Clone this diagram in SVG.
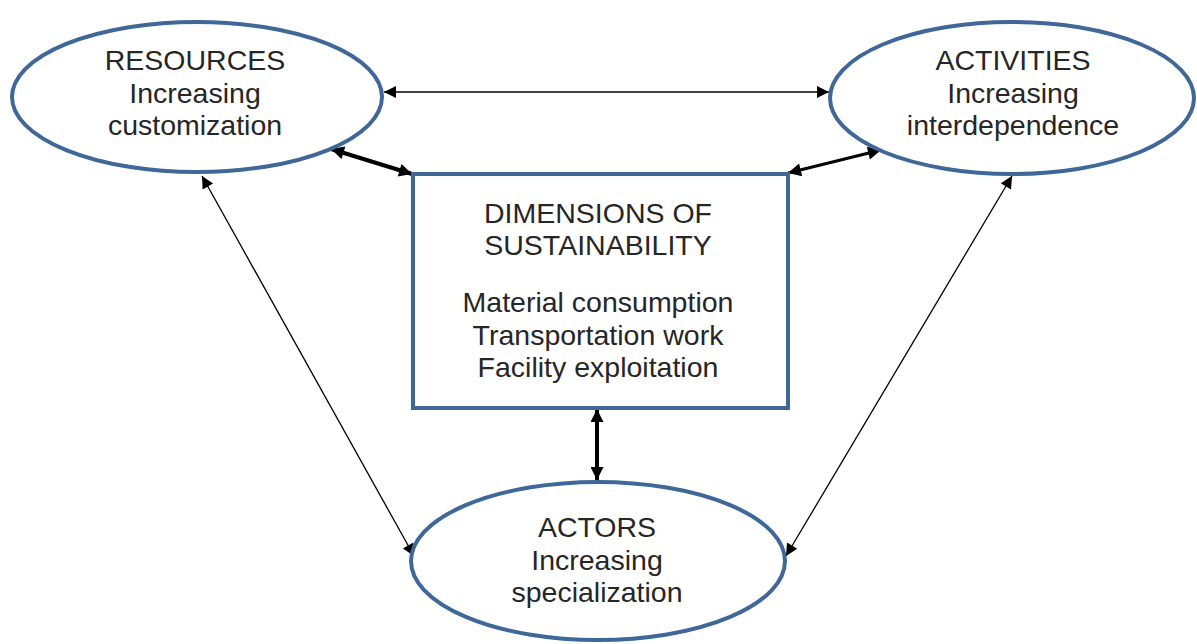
<svg xmlns="http://www.w3.org/2000/svg" width="1197" height="644" viewBox="0 0 1197 644">
<style>
.node{fill:#fff;stroke:#3f6797;stroke-width:4}
text{font-family:"Liberation Sans",Arial,sans-serif;font-size:28.5px;fill:#262626;text-anchor:middle}
.c{stroke:#000;fill:none}
</style>
<defs>
<marker id="a" viewBox="0 0 10 10" refX="10" refY="5" markerWidth="16" markerHeight="12" markerUnits="userSpaceOnUse" orient="auto-start-reverse"><path d="M0,0 L10,5 L0,10 z" fill="#000"/></marker>
<marker id="b" viewBox="0 0 10 10" refX="10" refY="5" markerWidth="17" markerHeight="13" markerUnits="userSpaceOnUse" orient="auto-start-reverse"><path d="M0,0 L10,5 L0,10 z" fill="#000"/></marker>
</defs>
<rect width="1197" height="644" fill="#fff"/>
<g id="connectors">
<line class="c" x1="384" y1="92" x2="829" y2="92" stroke-width="1.5" marker-start="url(#a)" marker-end="url(#a)"/>
<line class="c" x1="331" y1="149" x2="412" y2="174" stroke-width="4" marker-start="url(#b)" marker-end="url(#b)"/>
<line class="c" x1="788" y1="173" x2="881" y2="150" stroke-width="3" marker-start="url(#b)" marker-end="url(#b)"/>
<line class="c" x1="202" y1="176" x2="414" y2="556" stroke-width="1.3" marker-start="url(#a)" marker-end="url(#a)"/>
<line class="c" x1="1012" y1="176" x2="786" y2="556" stroke-width="1.3" marker-start="url(#a)" marker-end="url(#a)"/>
<line class="c" x1="597" y1="409" x2="597" y2="480" stroke-width="4" marker-start="url(#b)" marker-end="url(#b)"/>
</g>
<g id="resources">
<ellipse class="node" cx="197" cy="97" rx="185" ry="75"/>
<text x="195" y="70">RESOURCES</text>
<text x="195" y="103">Increasing</text>
<text x="195" y="135">customization</text>
</g>
<g id="activities">
<ellipse class="node" cx="1012" cy="98" rx="182" ry="76"/>
<text x="1013" y="70">ACTIVITIES</text>
<text x="1013" y="103">Increasing</text>
<text x="1013" y="135">interdependence</text>
</g>
<g id="dimensions">
<rect class="node" x="413" y="174" width="375" height="234"/>
<text x="598" y="223">DIMENSIONS OF</text>
<text x="598" y="255">SUSTAINABILITY</text>
<text x="598" y="312">Material consumption</text>
<text x="598" y="345">Transportation work</text>
<text x="598" y="377">Facility exploitation</text>
</g>
<g id="actors">
<ellipse class="node" cx="598" cy="561" rx="187" ry="79"/>
<text x="597" y="537">ACTORS</text>
<text x="597" y="570">Increasing</text>
<text x="597" y="602">specialization</text>
</g>
</svg>
